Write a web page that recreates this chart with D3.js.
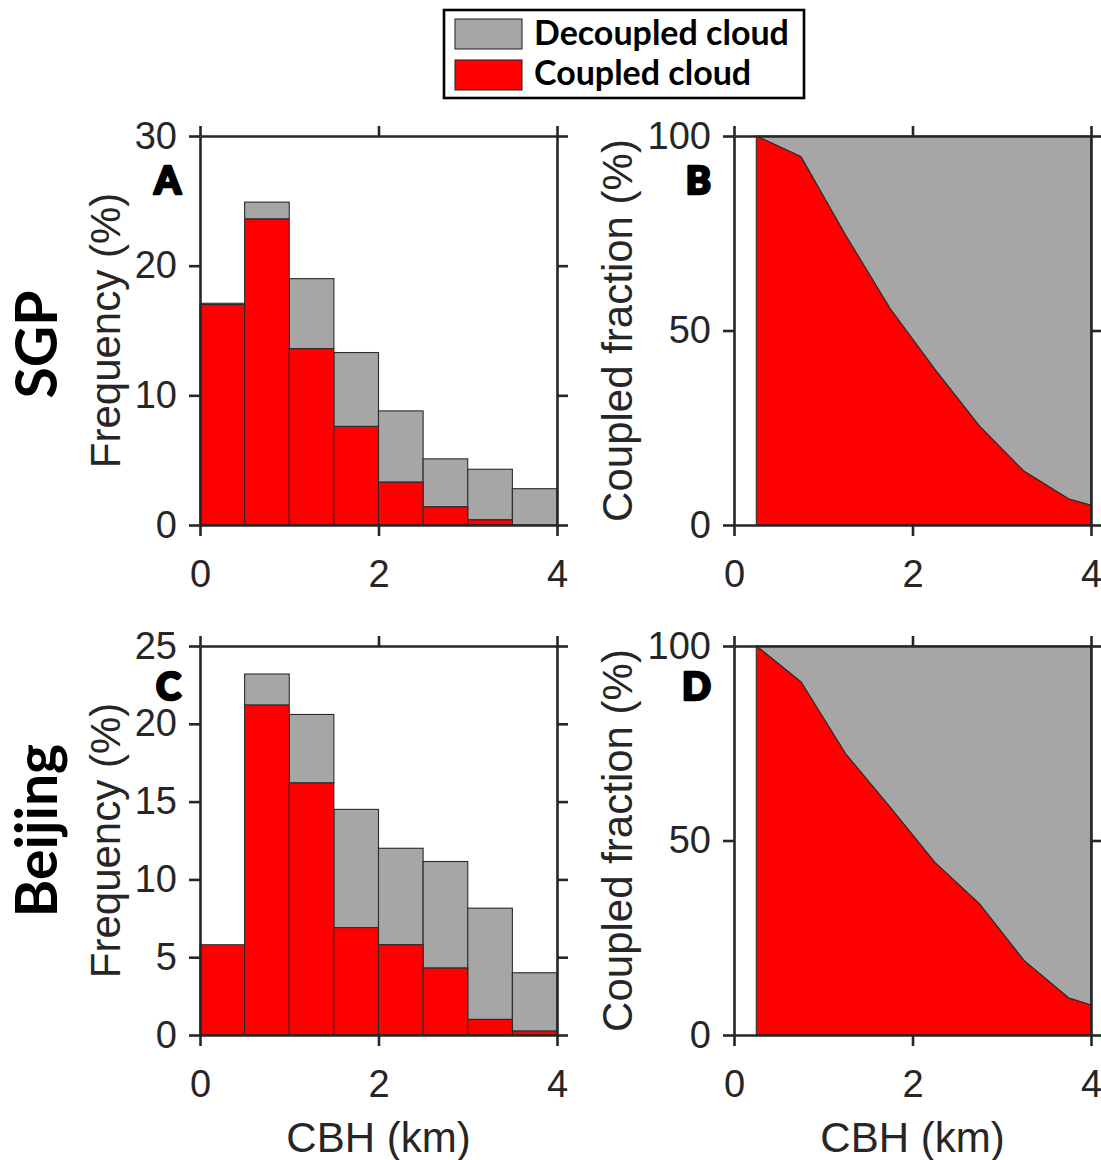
<!DOCTYPE html>
<html>
<head>
<meta charset="utf-8">
<script src="https://cdn.jsdelivr.net/npm/d3@7"></script>
<style>
  body { margin: 0; background: #fff; }
  svg { display: block; }
</style>
</head>
<body>
<script>
// ---- data -------------------------------------------------------------
const binStarts = [0, 0.5, 1, 1.5, 2, 2.5, 3, 3.5];   // CBH bin lower edges (km)
const binWidth = 0.5;

// Frequency (%) of each CBH bin, split into coupled / decoupled clouds
const sgpCoupled   = [17.0, 23.6, 13.6, 7.6, 3.3, 1.4, 0.4, 0.0];
const sgpDecoupled = [0.1, 1.3, 5.4, 5.7, 5.5, 3.7, 3.9, 2.8];
const bjCoupled    = [5.8, 21.2, 16.2, 6.9, 5.8, 4.3, 1.0, 0.25];
const bjDecoupled  = [0.0, 2.0, 4.4, 7.6, 6.2, 6.85, 7.15, 3.75];

// Coupled fraction (%) versus CBH (km)
const fracCBH     = [0.25, 0.75, 1.25, 1.75, 2.25, 2.75, 3.25, 3.75, 4.0];
const sgpFraction = [100, 94.7, 74.5, 55.6, 40.0, 25.4, 13.8, 6.7, 5.1];
const bjFraction  = [100, 90.8, 72.3, 58.5, 44.4, 33.7, 19.1, 9.5, 7.7];

// Tick values
const cbhTicks     = [0, 2, 4];
const sgpFreqTicks = [0, 10, 20, 30];
const bjFreqTicks  = [0, 5, 10, 15, 20, 25];
const fracTicks    = [0, 50, 100];

const seriesNames  = ["Decoupled cloud", "Coupled cloud"];
const rowNames     = ["SGP", "Beijing"];
const panelLetters = ["A", "B", "C", "D"];

// ---- styling ----------------------------------------------------------
const W = 1101, H = 1160;
const GRAY = "#a6a6a6", RED = "#ff0000", AXIS = "#262626", EDGE = "#2b2b2b";
const TICK_FONT = "'Liberation Sans', Arial, sans-serif";
const LABEL_FONT = "'Lato', 'Open Sans', sans-serif";
const HEAVY_FONT = "'Lato', 'DejaVu Sans', sans-serif";

const colX = [200, 734];
const rowY = [136, 646];
const pw = 357, ph = 389;

const svg = d3.select("body").append("svg")
  .attr("width", W).attr("height", H)
  .attr("viewBox", `0 0 ${W} ${H}`);

function frameAxes(g, x, y, yTicks) {
  const styleAxis = sel => {
    sel.attr("font-size", 38).attr("font-family", TICK_FONT);
    sel.select(".domain").attr("stroke", AXIS).attr("stroke-width", 2.6);
    sel.selectAll(".tick line").attr("stroke", AXIS).attr("stroke-width", 2.6);
    sel.selectAll(".tick text").attr("fill", AXIS);
  };
  g.append("g").attr("transform", `translate(0,${ph})`)
    .call(d3.axisBottom(x).tickValues(cbhTicks).tickFormat(d3.format("d"))
      .tickSize(11).tickSizeOuter(0).tickPadding(24))
    .call(styleAxis);
  g.append("g")
    .call(d3.axisTop(x).tickValues(cbhTicks).tickFormat("")
      .tickSize(10).tickSizeOuter(0))
    .call(styleAxis);
  g.append("g")
    .call(d3.axisLeft(y).tickValues(yTicks).tickFormat(d3.format("d"))
      .tickSize(11).tickSizeOuter(0).tickPadding(12))
    .call(styleAxis);
  g.append("g").attr("transform", `translate(${pw},0)`)
    .call(d3.axisRight(y).tickValues(yTicks).tickFormat("")
      .tickSize(11).tickSizeOuter(0))
    .call(styleAxis);
}

function yLabel(g, text, xOff) {
  g.append("text")
    .attr("transform", `translate(${xOff},${ph / 2}) rotate(-90)`)
    .attr("text-anchor", "middle")
    .attr("font-family", TICK_FONT).attr("font-size", 42)
    .attr("fill", AXIS).text(text);
}

function panelLetter(g, letter, xRight, baseline) {
  g.append("text")
    .attr("x", xRight).attr("y", baseline)
    .attr("text-anchor", "end")
    .attr("font-family", HEAVY_FONT).attr("font-weight", 900)
    .attr("font-size", 38).attr("fill", "#000")
    .attr("stroke", "#000").attr("stroke-width", 2.6)
    .attr("stroke-linejoin", "round")
    .text(letter);
}

// ---- histogram panels (A, C) -----------------------------------------
function histPanel(row, coupled, decoupled, yMax, yTicks, letter) {
  const g = svg.append("g").attr("transform", `translate(${colX[0]},${rowY[row]})`);
  const x = d3.scaleLinear().domain([0, 4]).range([0, pw]);
  const y = d3.scaleLinear().domain([0, yMax]).range([ph, 0]);

  const table = binStarts.map((b, i) => ({ start: b, coupled: coupled[i], decoupled: decoupled[i] }));
  const stacked = d3.stack().keys(["coupled", "decoupled"])(table);
  const fill = { coupled: RED, decoupled: GRAY };

  // decoupled drawn first so the coupled part sits at the base
  [stacked[1], stacked[0]].forEach(layer => {
    g.append("g").selectAll("rect")
      .data(layer.filter(d => d[1] - d[0] > 0))
      .join("rect")
      .attr("x", d => x(d.data.start))
      .attr("width", d => x(d.data.start + binWidth) - x(d.data.start))
      .attr("y", d => y(d[1]))
      .attr("height", d => y(d[0]) - y(d[1]))
      .attr("fill", fill[layer.key])
      .attr("stroke", EDGE).attr("stroke-width", 1.1);
  });

  frameAxes(g, x, y, yTicks);
  yLabel(g, "Frequency (%)", -80);
  panelLetter(g, letter, -19, row === 0 ? 58 : 54);
}

// ---- coupled-fraction panels (B, D) ----------------------------------
function fractionPanel(row, fraction, letter) {
  const g = svg.append("g").attr("transform", `translate(${colX[1]},${rowY[row]})`);
  const x = d3.scaleLinear().domain([0, 4]).range([0, pw]);
  const y = d3.scaleLinear().domain([0, 100]).range([ph, 0]);
  const pts = fracCBH.map((c, i) => ({ cbh: c, f: fraction[i] }));

  const decoupledArea = d3.area().x(d => x(d.cbh)).y0(() => y(100)).y1(d => y(d.f));
  const coupledArea = d3.area().x(d => x(d.cbh)).y0(() => y(0)).y1(d => y(d.f));

  g.append("path").datum(pts).attr("d", decoupledArea)
    .attr("fill", GRAY).attr("stroke", EDGE).attr("stroke-width", 1.1);
  g.append("path").datum(pts).attr("d", coupledArea)
    .attr("fill", RED).attr("stroke", EDGE).attr("stroke-width", 1.1);

  frameAxes(g, x, y, fracTicks);
  yLabel(g, "Coupled fraction (%)", -102);
  panelLetter(g, letter, -23, row === 0 ? 58 : 54);
}

histPanel(0, sgpCoupled, sgpDecoupled, 30, sgpFreqTicks, panelLetters[0]);
fractionPanel(0, sgpFraction, panelLetters[1]);
histPanel(1, bjCoupled, bjDecoupled, 25, bjFreqTicks, panelLetters[2]);
fractionPanel(1, bjFraction, panelLetters[3]);

// ---- x-axis titles under the bottom row ------------------------------
colX.forEach(cx => {
  svg.append("text")
    .attr("x", cx + pw / 2).attr("y", 1152)
    .attr("text-anchor", "middle")
    .attr("font-family", TICK_FONT).attr("font-size", 42)
    .attr("fill", AXIS).text("CBH (km)");
});

// ---- row titles ------------------------------------------------------
rowNames.forEach((name, i) => {
  svg.append("text")
    .attr("transform", `translate(57,${rowY[i] + ph / 2 + (i === 0 ? 14 : -10)}) rotate(-90)`)
    .attr("text-anchor", "middle")
    .attr("font-family", LABEL_FONT).attr("font-weight", 700)
    .attr("font-size", 57).attr("fill", "#000").text(name);
});

// ---- legend ----------------------------------------------------------
const leg = svg.append("g");
leg.append("rect")
  .attr("x", 444).attr("y", 10).attr("width", 360).attr("height", 88)
  .attr("fill", "#fff").attr("stroke", "#000").attr("stroke-width", 2.6);
[GRAY, RED].forEach((c, i) => {
  leg.append("rect")
    .attr("x", 455).attr("y", i === 0 ? 19 : 60).attr("width", 67).attr("height", 30)
    .attr("fill", c).attr("stroke", EDGE).attr("stroke-width", 1.1);
  leg.append("text")
    .attr("x", 534).attr("y", i === 0 ? 45 : 85)
    .attr("font-family", LABEL_FONT).attr("font-weight", 700)
    .attr("font-size", 34).attr("fill", "#000").text(seriesNames[i]);
});
</script>
</body>
</html>
